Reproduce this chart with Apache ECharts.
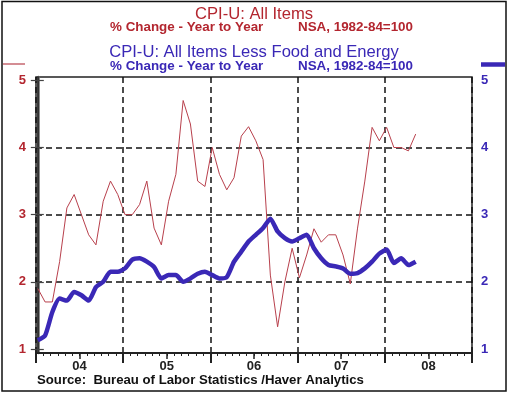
<!DOCTYPE html>
<html>
<head>
<meta charset="utf-8">
<script src="https://cdn.jsdelivr.net/npm/echarts@6/dist/echarts.min.js"></script>
<style>
html,body{margin:0;padding:0;background:#fff;}
#c{width:510px;height:393px;}
</style>
</head>
<body>
<div id="c"></div>
<script>
// Monthly data, Jan 2004 .. May 2008 (x = month index from Jan 2004)
const yearLabels = ['04', '05', '06', '07', '08'];
const allItems = [
  1.9, 1.7, 1.7, 2.3, 3.1, 3.3, 3.0, 2.7, 2.55, 3.2, 3.5, 3.3,
  3.0, 3.0, 3.15, 3.5, 2.8, 2.55, 3.2, 3.6, 4.7, 4.35, 3.5, 3.42,
  4.0, 3.6, 3.37, 3.55, 4.17, 4.31, 4.1, 3.82, 2.1, 1.33, 2.0, 2.5,
  2.06, 2.4, 2.79, 2.59, 2.7, 2.7, 2.4, 1.97, 2.8, 3.5, 4.3, 4.1,
  4.3, 4.0, 4.0, 3.95, 4.2
];
const coreItems = [
  1.13, 1.2, 1.55, 1.75, 1.72, 1.85, 1.8, 1.72, 1.92, 2.0, 2.15, 2.15,
  2.2, 2.33, 2.35, 2.3, 2.22, 2.05, 2.1, 2.1, 2.0, 2.05, 2.12, 2.15,
  2.1, 2.05, 2.07, 2.3, 2.45, 2.6, 2.7, 2.8, 2.94, 2.75, 2.65, 2.6,
  2.65, 2.7, 2.5, 2.35, 2.25, 2.23, 2.2, 2.12, 2.13, 2.2, 2.3, 2.42,
  2.48, 2.28, 2.35, 2.25, 2.3
];
const yTicks = [1, 2, 3, 4, 5];
const yGrid = [2, 3, 4];

const RED = '#b3262f';
const REDLINE = '#b8404c';
const BLUE = '#3a28b6';
const FONT = '"Liberation Sans", Arial, sans-serif';
const X0 = -0.25, X1 = 59.75;

const chart = echarts.init(document.getElementById('c'));
chart.setOption({
  animation: false,
  backgroundColor: '#fff',
  grid: { left: 36, right: 38, top: 77, bottom: 40, show: true, borderColor: '#222', borderWidth: 1.5, backgroundColor: 'transparent' },
  xAxis: [
    {
      type: 'value', min: X0, max: X1, interval: 12,
      axisLine: { show: true, lineStyle: { color: '#222', width: 2 } },
      axisTick: { show: true, length: 10, lineStyle: { color: '#222', width: 2 } },
      minorTick: { show: true, splitNumber: 12, length: 3, lineStyle: { color: '#222', width: 1 } },
      axisLabel: { show: false },
      splitLine: { show: true, lineStyle: { color: '#111', type: [6, 4], width: 1.5 } }
    },
    {
      type: 'value', min: X0, max: X1, interval: 6, position: 'bottom',
      axisLine: { show: false },
      axisTick: { show: true, length: 6, lineStyle: { color: '#222', width: 1.5 } },
      splitLine: { show: false },
      axisLabel: {
        show: true, margin: 7, color: '#222', fontFamily: FONT, fontWeight: 'bold', fontSize: 13,
        formatter: function (v) {
          const h = Math.round((v - X0) / 6);
          if (h % 2 === 1) { return yearLabels[(h - 1) / 2] || ''; }
          return '';
        }
      }
    }
  ],
  yAxis: [
    {
      type: 'value', min: 0.94, max: 5.05, position: 'left',
      axisLine: { show: true, lineStyle: { color: '#666', width: 2.5 } },
      axisTick: { show: true, length: 7, customValues: yTicks, lineStyle: { color: '#444', width: 1.2 } },
      axisLabel: { show: true, customValues: yTicks, margin: 10, color: RED, fontFamily: FONT, fontWeight: 'bold', fontSize: 13 },
      splitLine: { show: false }
    },
    {
      type: 'value', min: 0.94, max: 5.05, position: 'right',
      axisLine: { show: true, lineStyle: { color: '#222', width: 1.5 } },
      axisTick: { show: true, length: 6, customValues: yTicks, lineStyle: { color: '#444', width: 1.2 } },
      axisLabel: { show: true, customValues: yTicks, margin: 9, color: BLUE, fontFamily: FONT, fontWeight: 'bold', fontSize: 13 },
      splitLine: { show: false }
    },
    {
      type: 'value', min: 0.94, max: 5.05, position: 'left',
      axisLine: { show: false },
      axisTick: { show: false, customValues: yGrid },
      axisLabel: { show: false, customValues: yGrid },
      splitLine: { show: true, lineStyle: { color: '#111', type: [6, 4], width: 1.5 } }
    }
  ],
  series: [
    {
      name: 'CPI-U: All Items', type: 'line', xAxisIndex: 0, yAxisIndex: 0,
      data: allItems.map((v, i) => [i, v]),
      showSymbol: false, lineStyle: { color: REDLINE, width: 1 }, z: 3
    },
    {
      name: 'CPI-U: All Items Less Food and Energy', type: 'line', xAxisIndex: 0, yAxisIndex: 0,
      data: coreItems.map((v, i) => [i, v]),
      showSymbol: false, smooth: 0.2, lineStyle: { color: BLUE, width: 4.5 }, z: 4
    }
  ],
  graphic: [
    { type: 'rect', shape: { x: 2, y: 1.5, width: 504, height: 389.5 }, style: { fill: 'none', stroke: '#111', lineWidth: 1.5 }, silent: true },
    { type: 'text', x: 254, y: 14, style: { text: 'CPI-U: All Items', fill: RED, font: '16.6px ' + FONT, align: 'center', verticalAlign: 'middle' } },
    { type: 'text', x: 110, y: 27, style: { text: '% Change - Year to Year', fill: RED, font: 'bold 13.4px ' + FONT, align: 'left', verticalAlign: 'middle' } },
    { type: 'text', x: 298, y: 27, style: { text: 'NSA, 1982-84=100', fill: RED, font: 'bold 13.4px ' + FONT, align: 'left', verticalAlign: 'middle' } },
    { type: 'text', x: 254, y: 52, style: { text: 'CPI-U: All Items Less Food and Energy', fill: BLUE, font: '16.6px ' + FONT, align: 'center', verticalAlign: 'middle' } },
    { type: 'text', x: 110, y: 66, style: { text: '% Change - Year to Year', fill: BLUE, font: 'bold 13.4px ' + FONT, align: 'left', verticalAlign: 'middle' } },
    { type: 'text', x: 298, y: 66, style: { text: 'NSA, 1982-84=100', fill: BLUE, font: 'bold 13.4px ' + FONT, align: 'left', verticalAlign: 'middle' } },
    { type: 'line', shape: { x1: 3, y1: 64, x2: 25, y2: 64 }, style: { stroke: REDLINE, lineWidth: 1.2 } },
    { type: 'line', shape: { x1: 481, y1: 64.5, x2: 505, y2: 64.5 }, style: { stroke: BLUE, lineWidth: 4.5 } },
    { type: 'text', x: 37, y: 380, style: { text: 'Source:  Bureau of Labor Statistics /Haver Analytics', fill: '#111', font: 'bold 13.2px ' + FONT, align: 'left', verticalAlign: 'middle' } }
  ]
});
</script>
</body>
</html>
